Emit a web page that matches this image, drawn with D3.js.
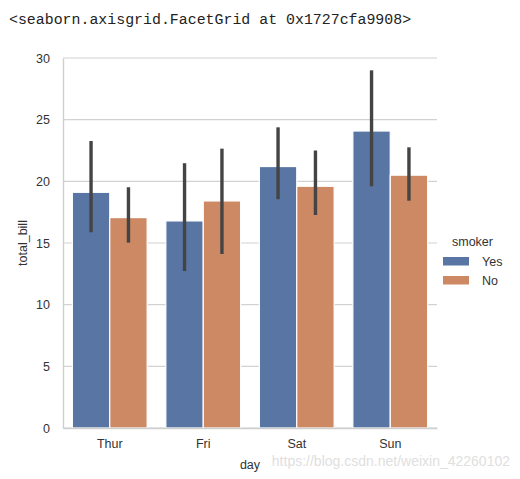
<!DOCTYPE html>
<html>
<head>
<meta charset="utf-8">
<script src="https://cdn.jsdelivr.net/npm/d3@7"></script>
<style>
  body { margin: 0; background: #fff; }
  text { font-family: "Liberation Sans", Arial, sans-serif; }
  text.mono { font-family: "Liberation Mono", "DejaVu Sans Mono", monospace; }
</style>
</head>
<body>
<script>
const width = 520;
const height = 479;

// data
const days = ["Thur", "Fri", "Sat", "Sun"];
const smokers = ["Yes", "No"];
const meanYes = [19.11, 16.79, 21.2, 24.08];
const meanNo = [17.06, 18.41, 19.6, 20.5];
const ciLowYes = [15.87, 12.73, 18.55, 19.6];
const ciHighYes = [23.27, 21.47, 24.38, 29.0];
const ciLowNo = [15.03, 14.11, 17.27, 18.43];
const ciHighNo = [19.52, 22.65, 22.5, 22.76];
const yTicks = [0, 5, 10, 15, 20, 25, 30];
const colors = ["#5975a4", "#cc8963"];

const margin = { left: 63, right: 83, top: 58, bottom: 51 };

const svg = d3.select("body")
	.append("svg")
	.attr("width", width)
	.attr("height", height);

// header line printed by the notebook
svg.append("text")
	.attr("class", "mono")
	.attr("x", 9)
	.attr("y", 24)
	.attr("font-size", "14.9px")
	.attr("fill", "#222")
	.text("<seaborn.axisgrid.FacetGrid at 0x1727cfa9908>");

const x = d3.scaleBand()
	.domain(days)
	.range([margin.left, width - margin.right])
	.paddingInner(0)
	.paddingOuter(0);

// two bars fill 80% of each day's band
const xs = d3.scaleBand()
	.domain(smokers)
	.range([0, x.bandwidth()])
	.paddingInner(0)
	.paddingOuter(0.25);

const y = d3.scaleLinear()
	.domain([0, 30])
	.range([height - margin.bottom, margin.top]);

// grid
svg.append("g")
	.selectAll("line")
	.data(yTicks)
	.enter()
	.append("line")
	.attr("x1", margin.left)
	.attr("x2", width - margin.right)
	.attr("y1", function (d) { return y(d); })
	.attr("y2", function (d) { return y(d); })
	.attr("stroke", "#d2d2d2")
	.attr("stroke-width", 1.2);

// y axis
const yAxis = svg.append("g")
	.attr("transform", "translate(" + margin.left + ",0)")
	.call(d3.axisLeft(y).tickValues(yTicks).tickSize(0).tickPadding(13));
yAxis.select(".domain").attr("stroke", "#cfcfcf").attr("stroke-width", 1.4);
yAxis.selectAll("text")
	.attr("font-size", "12.5px")
	.attr("fill", "#333");

// rows per bar
const rows = [];
days.forEach(function (d, i) {
	rows.push({ day: d, smoker: "Yes", mean: meanYes[i], lo: ciLowYes[i], hi: ciHighYes[i] });
	rows.push({ day: d, smoker: "No", mean: meanNo[i], lo: ciLowNo[i], hi: ciHighNo[i] });
});

svg.append("g")
	.selectAll("rect")
	.data(rows)
	.enter()
	.append("rect")
	.attr("x", function (d) { return x(d.day) + xs(d.smoker); })
	.attr("y", function (d) { return y(d.mean); })
	.attr("width", xs.bandwidth())
	.attr("height", function (d) { return y(0) - y(d.mean); })
	.attr("fill", function (d) { return colors[smokers.indexOf(d.smoker)]; })
	.attr("stroke", "#fff")
	.attr("stroke-width", 1.2);

// x axis
const xAxis = svg.append("g")
	.attr("transform", "translate(0," + y(0) + ")")
	.call(d3.axisBottom(x).tickSize(0).tickPadding(11));
xAxis.select(".domain").attr("stroke", "#cfcfcf").attr("stroke-width", 1.4);
xAxis.selectAll("text")
	.attr("font-size", "12.5px")
	.attr("fill", "#333");

// error bars
svg.append("g")
	.selectAll("line")
	.data(rows)
	.enter()
	.append("line")
	.attr("x1", function (d) { return x(d.day) + xs(d.smoker) + xs.bandwidth() / 2; })
	.attr("x2", function (d) { return x(d.day) + xs(d.smoker) + xs.bandwidth() / 2; })
	.attr("y1", function (d) { return y(d.lo); })
	.attr("y2", function (d) { return y(d.hi); })
	.attr("stroke", "#444")
	.attr("stroke-width", 3.4);

// axis titles
svg.append("text")
	.attr("x", (margin.left + width - margin.right) / 2)
	.attr("y", 469)
	.attr("text-anchor", "middle")
	.attr("font-size", "12.5px")
	.attr("fill", "#333")
	.text("day");

svg.append("text")
	.attr("transform", "translate(27," + ((margin.top + height - margin.bottom) / 2) + ") rotate(-90)")
	.attr("text-anchor", "middle")
	.attr("font-size", "12.5px")
	.attr("fill", "#333")
	.text("total_bill");

// legend
const legend = svg.append("g").attr("transform", "translate(443,0)");
legend.append("text")
	.attr("x", 9)
	.attr("y", 246)
	.attr("font-size", "12.5px")
	.attr("fill", "#333")
	.text("smoker");
legend.selectAll("rect")
	.data(smokers)
	.enter()
	.append("rect")
	.attr("x", 0)
	.attr("y", function (d, i) { return 257 + i * 19; })
	.attr("width", 26)
	.attr("height", 8.5)
	.attr("fill", function (d, i) { return colors[i]; });
legend.selectAll("text.item")
	.data(smokers)
	.enter()
	.append("text")
	.attr("class", "item")
	.attr("x", 39)
	.attr("y", function (d, i) { return 266 + i * 19; })
	.attr("font-size", "12.5px")
	.attr("fill", "#333")
	.text(function (d) { return d; });

// watermark
svg.append("text")
	.attr("x", 510)
	.attr("y", 466)
	.attr("text-anchor", "end")
	.attr("font-size", "14px")
	.attr("fill", "#e0e0e0")
	.text("https://blog.csdn.net/weixin_42260102");
</script>
</body>
</html>
